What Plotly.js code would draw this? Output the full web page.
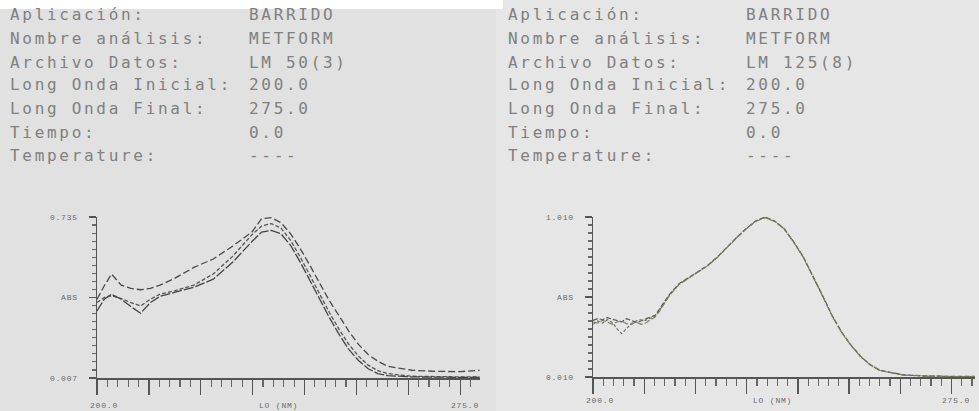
<!DOCTYPE html>
<html>
<head>
<meta charset="utf-8">
<script src="https://cdn.plot.ly/plotly-3.0.1.min.js"></script>
<style>
html,body{margin:0;padding:0;background:#e2e2e2;}
#chart{width:979px;height:411px;}
text[style*="DejaVu Sans Mono"]{letter-spacing:2.7px;}
text[style*="Liberation Mono"]{letter-spacing:0.8px;}
</style>
</head>
<body>
<div id="chart"></div>
<script>
// ---- header texts ----
const headerLabels = ["Aplicación:", "Nombre análisis:", "Archivo Datos:", "Long Onda Inicial:", "Long Onda Final:", "Tiempo:", "Temperature:"];
const leftValues  = ["BARRIDO", "METFORM", "LM 50(3)", "200.0", "275.0", "0.0", "----"];
const rightValues = ["BARRIDO", "METFORM", "LM 125(8)", "200.0", "275.0", "0.0", "----"];

// ---- left panel (LM 50) ----
const leftX = [200, 201.5, 203, 205, 207, 209, 211, 213, 216, 220, 224, 228, 232, 234, 236, 238, 240, 242, 244, 246, 248, 250, 252, 254, 256, 258, 260, 265, 270, 275, 279];
const left1 = [0.363,0.424,0.477,0.427,0.412,0.406,0.412,0.427,0.457,0.507,0.545,0.603,0.667,0.728,0.732,0.709,0.659,0.591,0.515,0.432,0.356,0.288,0.219,0.159,0.113,0.083,0.060,0.042,0.037,0.036,0.042];
const left2 = [0.348,0.371,0.379,0.366,0.348,0.333,0.363,0.386,0.401,0.427,0.477,0.557,0.655,0.694,0.705,0.685,0.629,0.553,0.470,0.386,0.303,0.227,0.159,0.106,0.065,0.040,0.027,0.015,0.012,0.012,0.012];
const left3 = [0.310,0.363,0.386,0.363,0.330,0.300,0.348,0.376,0.394,0.417,0.454,0.530,0.624,0.667,0.674,0.659,0.606,0.530,0.447,0.363,0.280,0.204,0.136,0.086,0.049,0.027,0.018,0.012,0.010,0.010,0.010];
const leftYTicks = [0.007, 0.371, 0.735];
const leftYText = ["0.007", "ABS", "0.735"];

// ---- right panel (LM 125) ----
const rightX = [200,201,202,203,204,205,206,207,208,209,210,211,212,213,214,216,218,220,222,224,226,228,230,232,234,236,238,240,242,244,246,248,250,252,254,256,258,260,265,270,275,280];
const rightA = [0.364,0.375,0.368,0.381,0.372,0.364,0.354,0.375,0.364,0.352,0.360,0.375,0.385,0.395,0.437,0.527,0.593,0.631,0.666,0.708,0.760,0.822,0.881,0.937,0.985,1.010,0.985,0.937,0.854,0.760,0.645,0.520,0.395,0.291,0.208,0.139,0.087,0.052,0.023,0.016,0.014,0.014];
const rightB = [0.339,0.360,0.347,0.368,0.352,0.312,0.281,0.312,0.343,0.360,0.368,0.364,0.375,0.390,0.430,0.522,0.590,0.629,0.664,0.706,0.758,0.820,0.879,0.935,0.983,1.008,0.983,0.935,0.852,0.758,0.643,0.518,0.393,0.289,0.206,0.137,0.086,0.051,0.022,0.015,0.013,0.013];
const rightC = [0.354,0.347,0.364,0.354,0.339,0.354,0.360,0.343,0.339,0.354,0.339,0.347,0.368,0.385,0.425,0.520,0.588,0.628,0.663,0.705,0.757,0.819,0.878,0.934,0.982,1.006,0.982,0.934,0.851,0.757,0.642,0.517,0.392,0.288,0.205,0.136,0.085,0.050,0.021,0.015,0.013,0.013];
const rightYTicks = [0.010, 0.510, 1.010];
const rightYText = ["0.010", "ABS", "1.010"];

const xLabelText = ["200.0", "LO (NM)", "275.0"];
const xLabelPos = [201.5, 237.5, 276];

const W = 979, H = 411;
const px = v => v / W;
const py = v => 1 - v / H;

const traces = [
  {x: leftX, y: left1, xaxis: 'x', yaxis: 'y', mode: 'lines', line: {color: '#4a4a4a', width: 1.3, dash: '7px,3px'}},
  {x: leftX, y: left2, xaxis: 'x', yaxis: 'y', mode: 'lines', line: {color: '#555555', width: 1.3, dash: '4px,2px'}},
  {x: leftX, y: left3, xaxis: 'x', yaxis: 'y', mode: 'lines', line: {color: '#444444', width: 1.3, dash: '10px,2px'}},
  {x: rightX, y: rightA, xaxis: 'x2', yaxis: 'y2', mode: 'lines', line: {color: '#555555', width: 1.2, dash: '5px,2px'}},
  {x: rightX, y: rightB, xaxis: 'x2', yaxis: 'y2', mode: 'lines', line: {color: '#6a6a6a', width: 1.1, dash: '3px,2px'}},
  {x: rightX, y: rightC, xaxis: 'x2', yaxis: 'y2', mode: 'lines', line: {color: '#7d7d55', width: 1.1, dash: '6px,2px'}}
];

const axisCommon = {
  showgrid: false, zeroline: false, showline: true, linecolor: '#555555', linewidth: 1.5,
  ticks: 'outside', tickcolor: '#555555', tickwidth: 1.3, fixedrange: true
};

function xAxis(domain, range) {
  return Object.assign({}, axisCommon, {
    domain: domain, range: range, tick0: 200, dtick: 75 / 7, ticklen: 15,
    showticklabels: false,
    minor: {tick0: 200, dtick: 75 / 35, ticklen: 7, ticks: 'outside', tickcolor: '#666666', tickwidth: 1.2}
  });
}
function yAxis(domain, range, tv, tt, anchor) {
  return Object.assign({}, axisCommon, {
    domain: domain, range: range, anchor: anchor, tickmode: 'array', tickvals: tv, ticktext: tt, ticklen: 7,
    ticklabelstandoff: 9, tickfont: {family: 'Liberation Mono', size: 8, color: '#6a6a6a'},
    minor: {tick0: range[0], dtick: (range[1] - range[0]) / 20, ticklen: 4, ticks: 'outside', tickcolor: '#666666', tickwidth: 1.2}
  });
}

const annotations = [];
const rowY = [15, 38, 62, 85, 108, 132, 155];
headerLabels.forEach((t, i) => {
  const f = {family: 'DejaVu Sans Mono', size: 16, color: '#808080'};
  annotations.push({xref: 'paper', yref: 'paper', x: px(8), y: py(rowY[i]), xanchor: 'left', yanchor: 'middle', text: t, showarrow: false, font: f});
  annotations.push({xref: 'paper', yref: 'paper', x: px(247), y: py(rowY[i]), xanchor: 'left', yanchor: 'middle', text: leftValues[i], showarrow: false, font: f});
  annotations.push({xref: 'paper', yref: 'paper', x: px(506), y: py(rowY[i]), xanchor: 'left', yanchor: 'middle', text: t, showarrow: false, font: f});
  annotations.push({xref: 'paper', yref: 'paper', x: px(744), y: py(rowY[i]), xanchor: 'left', yanchor: 'middle', text: rightValues[i], showarrow: false, font: f});
});
xLabelText.forEach((t, i) => {
  const f = {family: 'Liberation Mono', size: 8, color: '#6a6a6a'};
  annotations.push({xref: 'x', yref: 'paper', x: xLabelPos[i], y: py(405), xanchor: 'center', yanchor: 'middle', text: t, showarrow: false, font: f});
  annotations.push({xref: 'x2', yref: 'paper', x: xLabelPos[i], y: py(400), xanchor: 'center', yanchor: 'middle', text: t, showarrow: false, font: f});
});

const layout = {
  width: W, height: H,
  margin: {l: 0, r: 0, t: 0, b: 0},
  paper_bgcolor: '#e1e1e1', plot_bgcolor: 'rgba(0,0,0,0)',
  showlegend: false,
  xaxis: Object.assign(xAxis([px(97), px(480)], [200, 279.1]), {anchor: 'y'}),
  yaxis: yAxis([1 - 378 / H, 1 - 217 / H], [0.007, 0.735], leftYTicks, leftYText, 'x'),
  xaxis2: Object.assign(xAxis([px(593), px(975)], [200, 279.9]), {anchor: 'y2'}),
  yaxis2: yAxis([1 - 377 / H, 1 - 217 / H], [0.010, 1.010], rightYTicks, rightYText, 'x2'),
  annotations: annotations,
  shapes: [
    {type: 'rect', xref: 'paper', yref: 'paper', x0: px(496), x1: 1, y0: 0, y1: 1, fillcolor: '#e6e6e6', line: {width: 0}, layer: 'below'},
    {type: 'rect', xref: 'paper', yref: 'paper', x0: 0, x1: px(503), y0: py(9), y1: 1, fillcolor: '#ffffff', line: {width: 0}, layer: 'below'}
  ]
};

Plotly.newPlot('chart', traces, layout, {staticPlot: true, displayModeBar: false});
</script>
</body>
</html>
